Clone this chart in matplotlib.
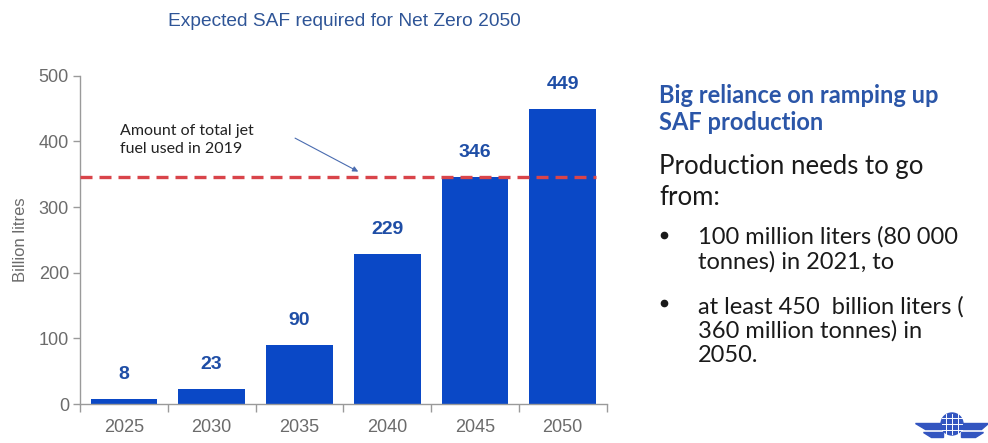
import matplotlib
matplotlib.use("Agg")
import matplotlib.pyplot as plt
from matplotlib.lines import Line2D
from matplotlib.patches import Circle, Polygon

# ---- data -------------------------------------------------------------
years = ["2025", "2030", "2035", "2040", "2045", "2050"]
saf_billion_litres = [8, 23, 90, 229, 346, 449]
jet_fuel_2019 = 346
y_ticks = [0, 100, 200, 300, 400, 500]

BAR_BLUE = "#0a48c6"
LABEL_BLUE = "#1f4ea6"
TITLE_BLUE = "#2f5597"
GREY = "#6b6b6b"
SPINE = "#9a9a9a"
TEXT = "#1a1a1a"

fig = plt.figure(figsize=(9.88, 4.43), dpi=100)
fig.patch.set_facecolor("white")

ax = fig.add_axes([0.081, 0.088, 0.533, 0.741])

x = list(range(len(years)))
bar_w = 0.76
ax.bar(x, saf_billion_litres, width=bar_w, color=BAR_BLUE, zorder=2)

for xi, v in zip(x, saf_billion_litres):
    ax.text(xi, v + 37, str(v), ha="center", va="center", fontsize=14,
            fontweight="bold", color=LABEL_BLUE, family="Liberation Sans")

# 2019 jet fuel reference line
ax.plot([-0.5, x[-1] + bar_w / 2], [jet_fuel_2019, jet_fuel_2019],
        color="#d9444a", lw=2.4, dashes=(3.6, 2.1), zorder=3)

ax.annotate("", xy=(2.67, 354), xytext=(1.95, 405),
            arrowprops=dict(arrowstyle="-|>", color="#4a6cb0", lw=0.8,
                            mutation_scale=8, shrinkA=0, shrinkB=0))
ax.text(-0.045, 402, "Amount of total jet\nfuel used in 2019", ha="left",
        va="center", fontsize=11.5, color="#222222", family="Lato",
        linespacing=1.4)

ax.set_xlim(-0.5, len(years) - 0.5)
ax.set_ylim(0, 500)
ax.set_yticks(y_ticks)
ax.set_xticks(x)
ax.set_xticklabels(years)
ax.set_xticks([i - 0.5 for i in range(len(years) + 1)], minor=True)
ax.tick_params(axis="x", which="major", length=0, pad=11, labelsize=13,
               labelcolor=GREY)
ax.tick_params(axis="x", which="minor", length=6, color=SPINE, width=1)
ax.tick_params(axis="y", length=5, color=SPINE, width=1, labelsize=13,
               labelcolor=GREY, pad=3)
for lbl in ax.get_xticklabels() + ax.get_yticklabels():
    lbl.set_family("Liberation Sans")

for side in ("top", "right"):
    ax.spines[side].set_visible(False)
for side in ("left", "bottom"):
    ax.spines[side].set_color(SPINE)
    ax.spines[side].set_linewidth(1)

ax.set_ylabel("Billion litres", fontsize=12, color=GREY,
              family="Liberation Sans", labelpad=8)

fig.text(344 / 988, 1 - 21 / 443, "Expected SAF required for Net Zero 2050",
         ha="center", va="center", fontsize=13.8, color=TITLE_BLUE,
         family="Liberation Sans")

# ---- right-hand notes -------------------------------------------------
fig.text(659 / 988, 1 - 109 / 443, "Big reliance on ramping up\nSAF production",
         ha="left", va="center", fontsize=17, fontweight="bold",
         color="#2b56a8", family="Lato", linespacing=1.23)
fig.text(659 / 988, 1 - 182 / 443, "Production needs to go\nfrom:",
         ha="left", va="center", fontsize=18.5, color=TEXT,
         family="Lato", linespacing=1.28)

bullets = [
    (235, "100 million liters (80 000\ntonnes) in 2021, to"),
    (303, "at least 450  billion liters (\n360 million tonnes) in\n2050."),
]
line_px = 28
for first_line, txt in bullets:
    n = txt.count("\n") + 1
    centre = first_line + line_px * (n - 1) / 2
    fig.add_artist(Line2D([664 / 988], [1 - first_line / 443], marker="o",
                          markersize=4.5, color=TEXT, lw=0,
                          transform=fig.transFigure))
    fig.text(698 / 988, 1 - centre / 443, txt, ha="left", va="center",
             fontsize=17, color=TEXT, family="Lato", linespacing=1.19)

# ---- small emblem, bottom right ----------------------------------------
emb = fig.add_axes([895 / 988, 0, 93 / 988, 32 / 443])
emb.set_xlim(0, 93)
emb.set_ylim(0, 32)
emb.set_aspect("equal")
emb.axis("off")
wing_col = "#3355c0"
emb.add_patch(Polygon([[20, 20], [48, 20], [48, 14], [30, 14]], color=wing_col))
emb.add_patch(Polygon([[28, 11], [48, 11], [48, 6], [36, 6]], color=wing_col))
emb.add_patch(Polygon([[93, 20], [66, 20], [66, 14], [86, 14]], color=wing_col))
emb.add_patch(Polygon([[88, 11], [66, 11], [66, 6], [80, 6]], color=wing_col))
emb.add_patch(Circle((57, 19), 11, color=wing_col))
for off in (-6, 0, 6):
    emb.plot([57 + off, 57 + off], [9, 29], color="white", lw=0.7)
    emb.plot([47, 67], [19 + off, 19 + off], color="white", lw=0.7)

fig.savefig("out.png", dpi=100, facecolor="white")
